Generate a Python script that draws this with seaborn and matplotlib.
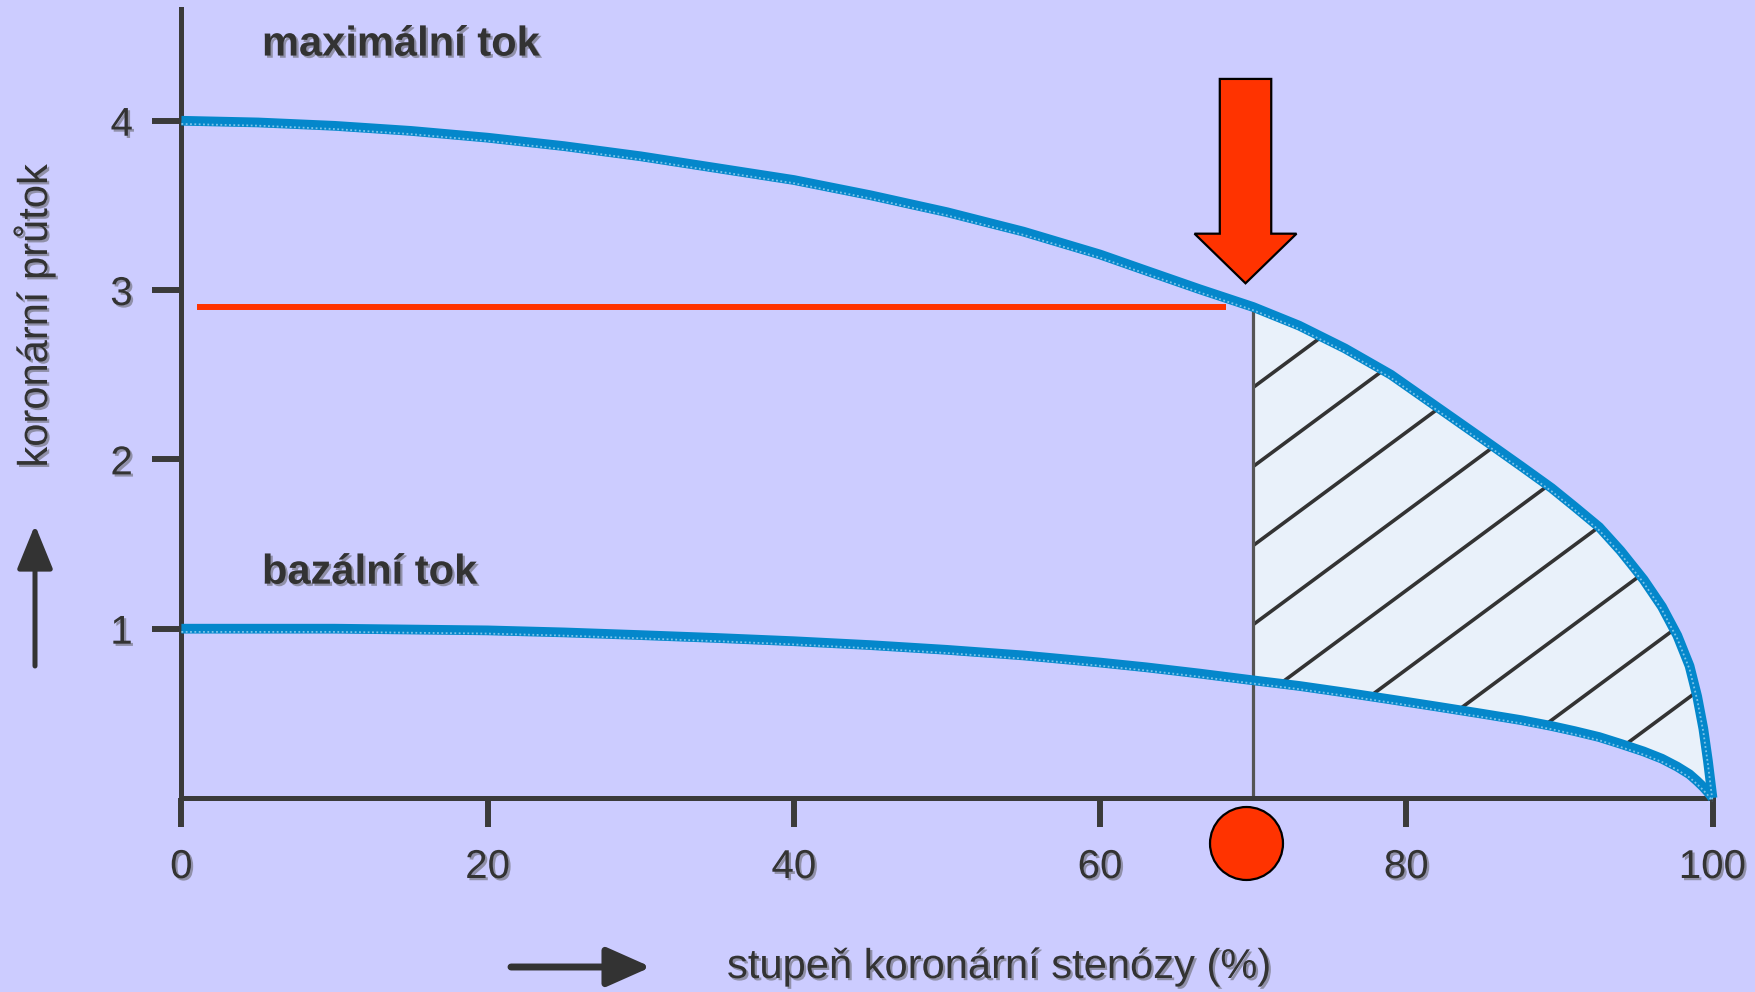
import numpy as np
import pandas as pd
import matplotlib
matplotlib.use("Agg")
import matplotlib.pyplot as plt
import matplotlib.patheffects as pe
from matplotlib.patches import FancyArrow, FancyArrowPatch
from matplotlib.transforms import offset_copy
import seaborn as sns

# ---------------- data ----------------
stenosis = [0, 5, 10, 15, 20, 25, 30, 35, 40, 45, 50, 55, 60, 63, 66.5, 70,
            73, 76, 79, 82, 85, 87.5, 89.5, 91, 92.6, 94, 95.5, 96.7, 97.7,
            98.5, 99, 99.4, 99.7, 100]
max_flow = [4.00, 3.99, 3.97, 3.94, 3.90, 3.85, 3.79, 3.72, 3.65, 3.56, 3.46,
            3.345, 3.21, 3.115, 3.005, 2.90, 2.79, 2.655, 2.50, 2.31, 2.12,
            1.96, 1.83, 1.72, 1.60, 1.46, 1.29, 1.13, 0.96, 0.78, 0.60, 0.41,
            0.22, 0.0]
basal_flow = [1.00, 1.00, 1.00, 0.995, 0.99, 0.978, 0.962, 0.945, 0.926,
              0.903, 0.875, 0.842, 0.80, 0.772, 0.735, 0.695, 0.662, 0.623,
              0.582, 0.54, 0.497, 0.46, 0.425, 0.395, 0.36, 0.32, 0.275,
              0.232, 0.185, 0.14, 0.10, 0.065, 0.035, 0.0]
x_ticks = [0, 20, 40, 60, 80, 100]
y_ticks = [1, 2, 3, 4]
critical_stenosis = 70
marker_stenosis = 69.5
threshold_flow = 2.90
threshold_start = 1.05
threshold_end = 68.2
label_max = "maximální tok"
label_basal = "bazální tok"
x_label = "stupeň koronární stenózy (%)"
y_label = "koronární průtok"

# ---------------- style ----------------
BG = "#ccccff"
BLUE = "#0487cb"
RED = "#ff3300"
DARK = "#333333"
FILL = "#e9f1fa"

sns.set_theme(style="white")
plt.rcParams["font.family"] = ["Liberation Sans", "DejaVu Sans"]

W, H = 1756, 992
fig = plt.figure(figsize=(W / 100, H / 100), dpi=100, facecolor=BG)
ax = fig.add_axes([181.4 / W, 194.0 / H, (1712.5 - 181.4) / W, 789.0 / H])
ax.set_facecolor(BG)

df = pd.DataFrame({"stenosis": stenosis, "max": max_flow, "basal": basal_flow})

# shaded zone beyond the critical stenosis
sub = df[df["stenosis"] >= critical_stenosis]
poly = ax.fill_between(sub["stenosis"], sub["basal"], sub["max"],
                       color=FILL, lw=0, zorder=1)
clip = poly.get_paths()[0]

# hatch lines (decorative), clipped to the shaded zone
hatch_slope = 0.0669
hatch_x = np.array([critical_stenosis, 100.0])
for k in range(9):
    off = 2.425 - 0.467 * k
    ln, = ax.plot(hatch_x, off + hatch_slope * (hatch_x - critical_stenosis),
                  color=DARK, lw=2.6, zorder=2, solid_capstyle="butt")
    ln.set_clip_path(clip, ax.transData)

# vertical line at critical stenosis
top_at_crit = float(df.loc[df["stenosis"] == critical_stenosis, "max"].iloc[0])
ax.plot([critical_stenosis, critical_stenosis], [0, top_at_crit],
        color="#555555", lw=2.3, zorder=2.5)

# curves
for col in ["max", "basal"]:
    sns.lineplot(data=df, x="stenosis", y=col, ax=ax, color=BLUE, lw=7.0,
                 sort=False, estimator=None, zorder=3, clip_on=False,
                 solid_capstyle="butt")
    ax.plot(df["stenosis"], df[col], color="#7cc4ea", lw=1.3,
            dashes=(1.0, 1.4), zorder=3.2, clip_on=False,
            transform=offset_copy(ax.transData, fig=fig, y=-3.2, units="dots"))

# red threshold line
ax.plot([threshold_start, threshold_end], [threshold_flow, threshold_flow],
        color=RED, lw=4.3, zorder=3, solid_capstyle="butt")

# red block arrow
arrow = FancyArrow(marker_stenosis, 4.247, 0, 3.04 - 4.247, width=3.36,
                   head_width=6.66, head_length=0.293,
                   length_includes_head=True, fc=RED, ec="black", lw=1.6,
                   zorder=5, clip_on=False)
ax.add_patch(arrow)

# red circle marker under the axis
ax.scatter([marker_stenosis], [-0.264], s=2760, color=RED, edgecolors="black",
           linewidths=1.6, zorder=6, clip_on=False)

# axes
ax.set_xlim(0, 100)
ax.set_ylim(0, 4.66)
ax.set_xticks(x_ticks)
ax.set_yticks(y_ticks)
ax.set_xlabel("")
ax.set_ylabel("")
for s in ["top", "right"]:
    ax.spines[s].set_visible(False)
for s in ["left", "bottom"]:
    ax.spines[s].set_linewidth(3.6)
    ax.spines[s].set_color("#3a3a3a")
ax.tick_params(axis="both", direction="out", length=21, width=4.3,
               color="#3a3a3a", labelsize=29, labelcolor=DARK)
ax.tick_params(axis="x", pad=15, bottom=True)
ax.tick_params(axis="y", pad=14, left=True)

shadow = [pe.withSimplePatchShadow(offset=(1.6, -1.6),
                                   shadow_rgbFace="#8a8aa0", alpha=0.9)]
for lbl in ax.get_xticklabels() + ax.get_yticklabels():
    lbl.set_path_effects(shadow)

# curve labels
ax.text(5.26, 4.385, label_max, fontsize=30, fontweight="bold", color=DARK,
        ha="left", va="baseline", path_effects=shadow)
ax.text(5.26, 1.266, label_basal, fontsize=30, fontweight="bold", color=DARK,
        ha="left", va="baseline", path_effects=shadow)

# axis titles (figure level)
fig.text(727 / W, 1 - 978 / H, x_label, fontsize=30, color=DARK,
         ha="left", va="baseline", path_effects=shadow)
fig.text(34 / W, 1 - 316 / H, y_label, fontsize=30, color=DARK, rotation=90,
         ha="center", va="center", path_effects=shadow)

# direction arrows
up = FancyArrowPatch((35, H - 666), (35, H - 525), transform=None,
                     arrowstyle="-|>,head_length=2.7,head_width=1.1",
                     mutation_scale=10, lw=3.6, color=DARK,
                     shrinkA=0, shrinkB=0)
right = FancyArrowPatch((511, 25), (651, 25), transform=None,
                        arrowstyle="-|>,head_length=2.7,head_width=1.2",
                        mutation_scale=10, lw=5.0, color=DARK,
                        shrinkA=0, shrinkB=0)
fig.patches.extend([up, right])

fig.savefig("out.png", dpi=100, facecolor=BG)
